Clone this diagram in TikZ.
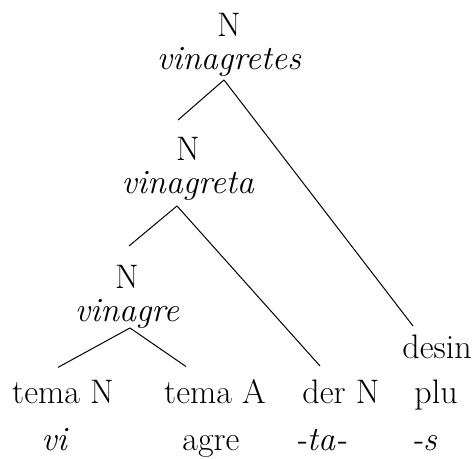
\documentclass[tikz,border=0pt]{standalone}
\usetikzlibrary{calc}

\begin{document}
\begin{tikzpicture}[
    x=0.5pt, y=-0.5pt,
    font=\fontsize{17}{16.5}\selectfont,
    tnode/.style={
        align=center,
        inner sep=0pt,
        anchor=north
    },
    leaf/.style={
        inner sep=0pt,
        anchor=base
    },
    gloss/.style={
        inner sep=0pt,
        anchor=base,
        font=\fontsize{17}{16.5}\selectfont\itshape
    },
    branch/.style={line width=0.5pt}
]
\useasboundingbox (0,0) rectangle (476,459);

% Inner nodes
\node[tnode] (vinagretes) at (229,13) {N\\\textit{vinagretes}};
\node[tnode] (vinagreta) at (188,137) {N\\\textit{vinagreta}};
\node[tnode] (vinagre) at (127,265) {N\\\textit{vinagre}};

% Leaves
\node[leaf] (temaN) at (63,403) {tema N};
\node[leaf] (temaA) at (215,403) {tema A};
\node[leaf] (derN) at (341,403) {der N};
\node[leaf] (desin) at (437,358) {desin};
\node[leaf] (plu) at (436,403) {plu};

% Forms
\node[gloss] (vi) at (54,450) {vi};
\node[leaf] (agre) at (211,450) {agre};
\node[gloss] (ta) at (321,450) {-ta-};
\node[gloss] (s) at (424,450) {-s};

% Branches
\draw[branch] ($(vinagretes.south)+(-5,3)$) -- ($(vinagreta.north)+(-10,-17)$);
\draw[branch] ($(vinagretes.south)+(-5,3)$) -- ($(desin.north)+(-24,-8)$);
\draw[branch] ($(vinagreta.south)+(-11,5)$) -- ($(vinagre.north)+(2,-19)$);
\draw[branch] ($(vinagreta.south)+(-11,5)$) -- ($(derN.north)+(-21,-13)$);
\draw[branch] ($(vinagre.south)+(3,-1)$) -- ($(temaN.north)+(-5,-12)$);
\draw[branch] ($(vinagre.south)+(3,-1)$) -- ($(temaA.north)+(-29,-12)$);

\end{tikzpicture}
\end{document}
